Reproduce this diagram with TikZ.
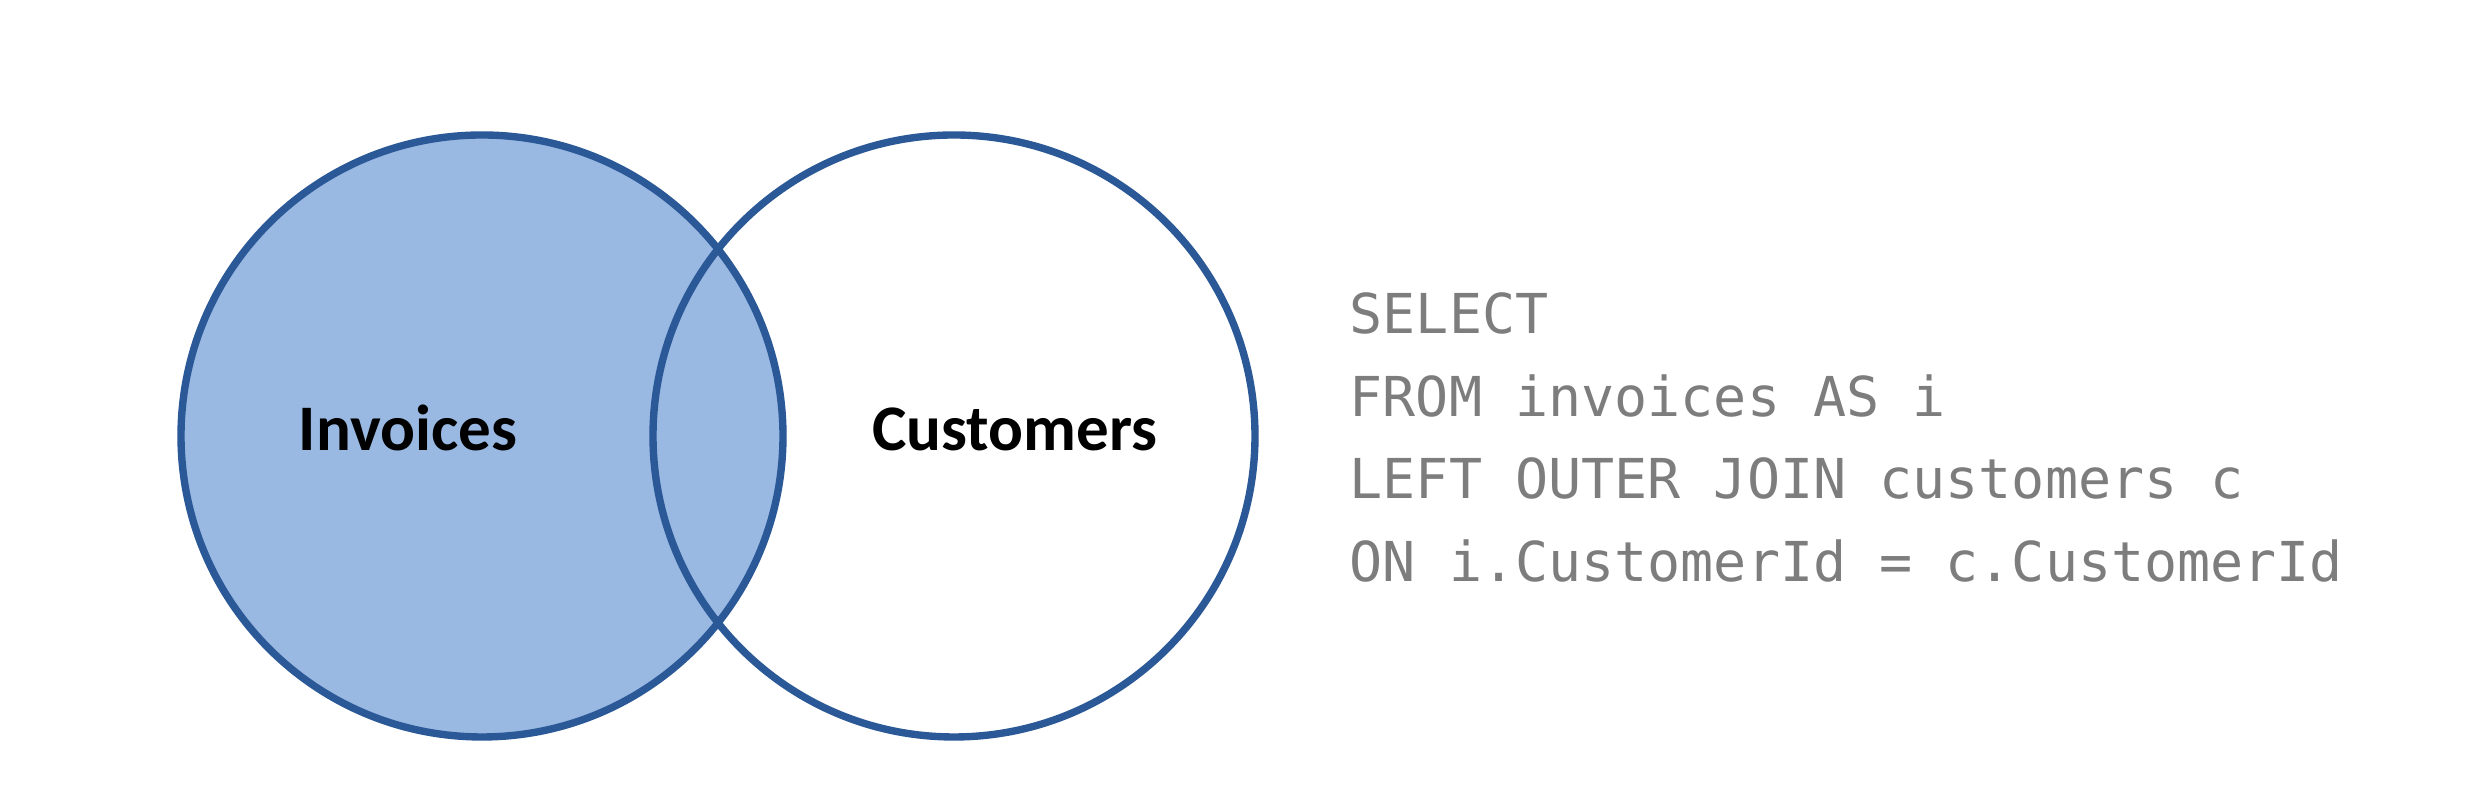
\documentclass[tikz,border=0pt]{standalone}
\usepackage{fontspec}
\newfontfamily\etiqueta{Carlito}
\newfontfamily\codigo{DejaVu Sans Mono}
\definecolor{azulborde}{RGB}{43,88,150}
\definecolor{azulrelleno}{RGB}{153,185,227}
\definecolor{grisc}{RGB}{125,125,125}
\tikzset{
    conjunto/.style={draw=azulborde, line width=2.1pt},
    rotulo/.style={anchor=base, font=\etiqueta\bfseries\fontsize{18.5}{20}\selectfont},
    sql/.style={anchor=base west, text=grisc, inner sep=0pt, font=\codigo\fontsize{15.65}{18}\selectfont}
}
\begin{document}
\begin{tikzpicture}

    % Fijamos el marco
    \useasboundingbox (0,0) rectangle (24.84,7.86);

    % Centros de los conjuntos
    \coordinate (cinv) at (4.82,3.50);
    \coordinate (ccus) at (9.54,3.50);

    % Pintamos el conjunto de la izquierda
    \fill[azulrelleno] (cinv) circle (3.01);

    % Dibujamos los bordes
    \draw[conjunto] (cinv) circle (3.01);
    \draw[conjunto] (ccus) circle (3.01);

    % Nombramos los conjuntos
    \node[rotulo] (invoices) at (4.08,3.35) {Invoices};
    \node[rotulo] (customers) at (10.15,3.35) {Customers};

    % Consulta
    \node[sql] (select) at (13.49,4.52) {SELECT};
    \node[sql] (from) at (13.49,3.695) {FROM invoices AS i};
    \node[sql] (join) at (13.49,2.87) {LEFT OUTER JOIN customers c};
    \node[sql] (on) at (13.49,2.045) {ON i.CustomerId = c.CustomerId};

\end{tikzpicture}
\end{document}
